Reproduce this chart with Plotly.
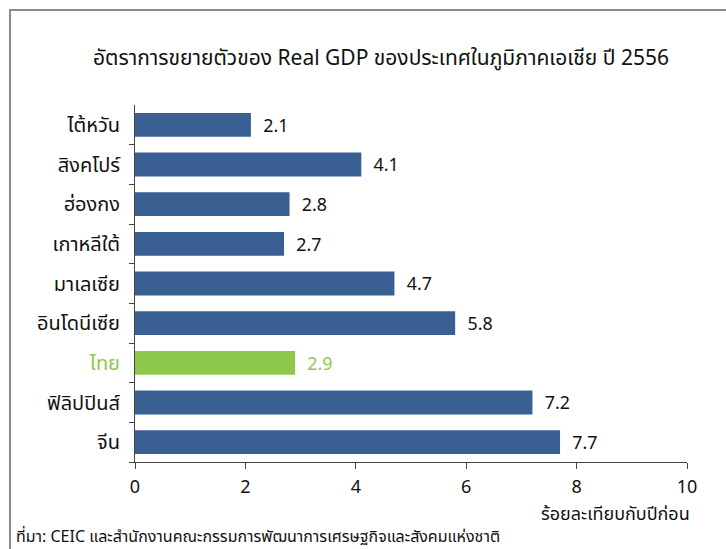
import plotly.graph_objects as go

categories = ["ไต้หวัน", "สิงคโปร์", "ฮ่องกง", "เกาหลีใต้", "มาเลเซีย", "อินโดนีเซีย", "ไทย", "ฟิลิปปินส์", "จีน"]
values = [2.1, 4.1, 2.8, 2.7, 4.7, 5.8, 2.9, 7.2, 7.7]
highlight = "ไทย"
title_text = "อัตราการขยายตัวของ Real GDP ของประเทศในภูมิภาคเอเชีย ปี 2556"
x_title = "ร้อยละเทียบกับปีก่อน"
source_text = "ที่มา: CEIC และสำนักงานคณะกรรมการพัฒนาการเศรษฐกิจและสังคมแห่งชาติ"
x_ticks = [0, 2, 4, 6, 8, 10]

BLUE = "#3a5f92"
GREEN = "#8dc84a"
colors = [GREEN if c == highlight else BLUE for c in categories]
text_colors = [GREEN if c == highlight else "#111111" for c in categories]

FONT = "Noto Sans, Noto Sans Thai, Tahoma, sans-serif"

fig = go.Figure(go.Bar(
    x=values, y=categories, orientation="h",
    marker=dict(color=colors, line=dict(width=0)),
    width=0.6,
    text=[f"\u00a0\u00a0{v:.1f}" for v in values],
    textposition="outside",
    textfont=dict(size=18, color=text_colors, family=FONT),
    cliponaxis=False,
))

W, H = 726, 549
L, R, T, B = 135, 39, 105, 87
pw, ph = W - L - R, H - T - B

def px_x(p):
    return (p - L) / pw

def px_y(p):
    return (H - B - p) / ph

ticktext = [f"<span style='color:{GREEN}'>{c}</span>" if c == highlight else c for c in categories]

fig.update_layout(
    width=W, height=H,
    margin=dict(l=L, r=R, t=T, b=B, autoexpand=False),
    paper_bgcolor="white", plot_bgcolor="white",
    showlegend=False,
    bargap=0.4,
    font=dict(family=FONT, color="#111111"),
    xaxis=dict(range=[0, 10], tickvals=x_ticks, ticks="outside", ticklen=6,
               tickcolor="#444", showline=True, linecolor="#444", linewidth=1,
               showgrid=False, zeroline=False, tickfont=dict(size=18),
               automargin=False, ticklabelstandoff=2),
    yaxis=dict(categoryorder="array", categoryarray=categories[::-1],
               tickvals=categories, ticktext=ticktext,
               ticks="outside", ticklen=5, tickcolor="#444", tickson="boundaries",
               showline=True, linecolor="#444", linewidth=1, showgrid=False,
               tickfont=dict(size=20), automargin=False, ticklabelstandoff=10),
    shapes=[dict(type="rect", xref="paper", yref="paper",
                 x0=px_x(10), x1=px_x(740), y0=px_y(560), y1=px_y(10),
                 line=dict(color="#8a8a8a", width=2), fillcolor="rgba(0,0,0,0)", layer="below")],
    annotations=[
        dict(text=title_text, xref="paper", yref="paper", x=px_x(381), y=px_y(57),
             xanchor="center", yanchor="middle", showarrow=False, font=dict(size=21)),
        dict(text=x_title, xref="paper", yref="paper", x=px_x(692), y=px_y(513),
             xanchor="right", yanchor="middle", showarrow=False, font=dict(size=18)),
        dict(text=source_text, xref="paper", yref="paper", x=px_x(14), y=px_y(536),
             xanchor="left", yanchor="middle", showarrow=False, font=dict(size=16)),
    ],
)

fig.write_html("out.html", config={"displayModeBar": False},
               post_script="document.body.style.margin='0';document.body.style.overflow='hidden';")
